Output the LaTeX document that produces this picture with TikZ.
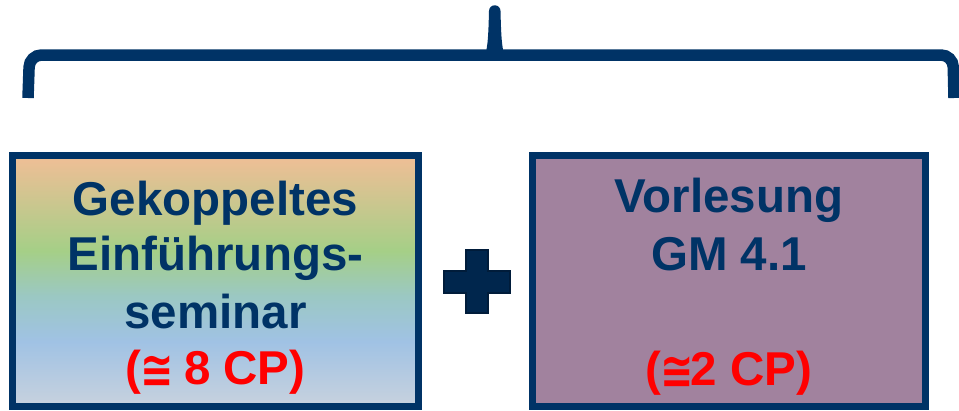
\documentclass[tikz,border=0pt]{standalone}
\usepackage{fontspec}
\usepackage{graphicx}
\setmainfont{Liberation Sans}
\newfontfamily\symfont{DejaVu Sans}
\definecolor{navy}{RGB}{0,51,102}
\definecolor{plusfill}{RGB}{0,38,77}
\definecolor{plusline}{RGB}{0,28,58}
\definecolor{cpeach}{RGB}{240,190,150}
\definecolor{cgreen}{RGB}{165,207,135}
\definecolor{cteal}{RGB}{155,200,195}
\definecolor{cblue}{RGB}{160,194,228}
\definecolor{cgray}{RGB}{200,210,222}
\definecolor{mauve}{RGB}{161,130,158}
\definecolor{cpred}{RGB}{255,0,0}
\pgfdeclareverticalshading{leftgrad}{100bp}{color(0bp)=(cgray); color(25bp)=(cgray); color(38bp)=(cblue); color(47bp)=(cteal); color(56bp)=(cgreen); color(75bp)=(cpeach); color(100bp)=(cpeach)}
\newcommand{\approxsym}{\kern-1pt\raisebox{-3pt}{\scalebox{0.95}[1.2]{\symfont\fontsize{42}{42}\selectfont ≅}}\kern-3pt}
\tikzset{
  boxstyle/.style={draw=navy, line width=7pt, inner sep=0pt, outer sep=0pt, minimum height=251pt},
  bluetext/.style={anchor=base, text=navy, font=\fontsize{47.5}{56}\selectfont\bfseries, inner sep=0pt},
  redtext/.style={anchor=base, text=cpred, font=\fontsize{47.5}{56}\selectfont\bfseries, inner sep=0pt},
}
\begin{document}
\begin{tikzpicture}[x=1pt,y=-1pt]
\useasboundingbox (0,0) rectangle (959,410);
% brace
\draw[navy, line width=11.5pt, rounded corners=12pt] (28,98) -- (29.5,55) -- (953,55) -- (954,98);
\fill[navy] (484.5,56) .. controls (488,50) and (488.5,30) .. (489,11) arc[start angle=180, end angle=360, radius=5.75] .. controls (501,30) and (501.5,50) .. (505,56) -- cycle;
% boxes
\node[boxstyle, minimum width=406pt, shading=leftgrad] (left) at (215.5,281) {};
\node[boxstyle, minimum width=393pt, fill=mauve] (right) at (729,281) {};
% plus
\draw[plusline, fill=plusfill, line width=2pt] (466,250) -- (488,250) -- (488,271) -- (510,271) -- (510,293) -- (488,293) -- (488,313) -- (466,313) -- (466,293) -- (444,293) -- (444,271) -- (466,271) -- cycle;
% texts
\node[bluetext] (l1) at (215.5,215) {Gekoppeltes};
\node[bluetext] (l2) at (215.5,270) {Einführungs-};
\node[bluetext] (l3) at (215.5,328) {seminar};
\node[redtext] (l4) at (215.5,384) {(\approxsym{} 8 CP)};
\node[bluetext] (r1) at (729,212) {Vorlesung};
\node[bluetext] (r2) at (729,270) {GM 4.1};
\node[redtext] (r3) at (729,385) {(\approxsym2 CP)};
\end{tikzpicture}
\end{document}
